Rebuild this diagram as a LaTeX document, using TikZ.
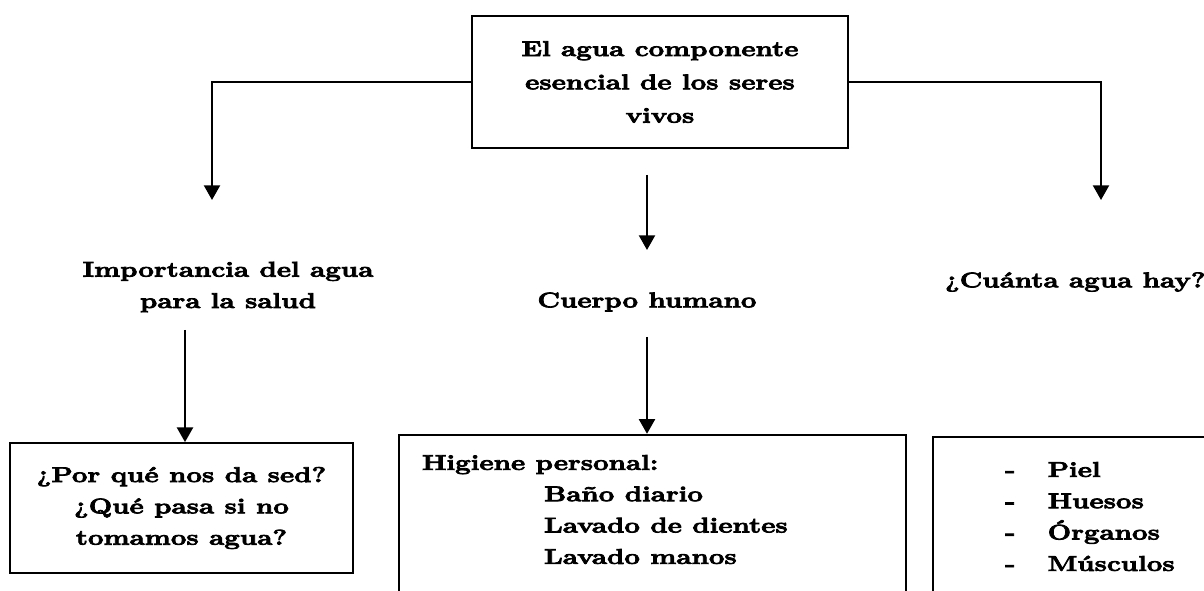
\documentclass[tikz,border=0pt]{standalone}
\usepackage{fontspec}
\setmainfont{Latin Modern Roman}[FakeStretch=1.3, FakeBold=3.5]
\usetikzlibrary{shapes, calc, arrows.meta, positioning}

\begin{document}
\begin{tikzpicture}[x=0.75pt, y=-0.75pt, line width=1.6pt,
  >={Triangle[width=12pt,length=11pt]},
  box/.style={draw, rectangle, line width=1.3pt, align=center},
  lbl/.style={inner sep=0pt, align=center, font=\fontsize{16pt}{23.5pt}\selectfont\bfseries}]
\useasboundingbox (0,0) rectangle (1204,591);

\node[box, lbl, minimum width=282pt, minimum height=99pt,
  font=\fontsize{16pt}{25pt}\selectfont\bfseries] (root) at (660,82)
  {El agua componente\\esencial de los seres\\vivos};

\node[lbl] (salud) at (228,287) {Importancia del agua\\para la salud};
\node[lbl] (cuerpo) at (647,302) {Cuerpo humano};
\node[lbl, anchor=west] (cuanta) at (944,282) {¿Cuánta agua hay?};

\node[box, lbl, minimum width=257pt, minimum height=97.5pt] (sed) at (181.5,508)
  {¿Por qué nos da sed?\\¿Qué pasa si no\\tomamos agua?};
\node[box, minimum width=380pt, minimum height=140pt] (higbox) at (652.5,528) {};
\node[lbl, align=left, anchor=north west] (higiene) at (421,454)
  {Higiene personal:\\
   \hspace*{91.5pt}Baño diario\\
   \hspace*{91.5pt}Lavado de dientes\\
   \hspace*{91.5pt}Lavado manos};
\node[box, minimum width=225pt, minimum height=140pt] (partbox) at (1083,530) {};
\node[lbl, align=left, anchor=north west] (partes) at (1004,461)
  {\makebox[32pt][l]{-}Piel\\
   \makebox[32pt][l]{-}Huesos\\
   \makebox[32pt][l]{-}Órganos\\
   \makebox[32pt][l]{-}Músculos};

\coordinate (izq) at (212,200);
\coordinate (der) at (1101,200);
\coordinate (m1) at (647,175);
\coordinate (m2) at (647,250);
\coordinate (s1) at (185,330);
\coordinate (c1) at (647,337);

\draw[->] (root.west) -| (izq);
\draw[->] (root.east) -| (der);
\draw[->] (m1) -- (m2);
\draw[->] (s1) -- (s1 |- sed.north);
\draw[->] (c1) -- (c1 |- higbox.north);
\end{tikzpicture}
\end{document}
